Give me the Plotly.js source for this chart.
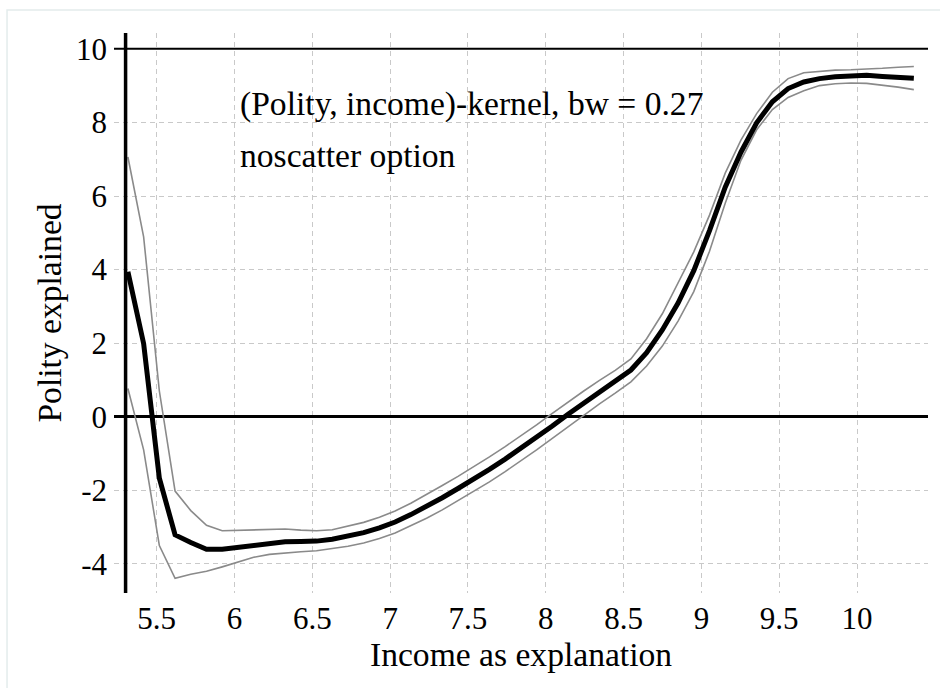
<!DOCTYPE html>
<html>
<head>
<meta charset="utf-8">
<script src="https://cdn.plot.ly/plotly-3.0.1.min.js"></script>
<style>html,body{margin:0;padding:0;background:#fff;}#chart{width:940px;height:688px;}</style>
</head>
<body>
<div id="chart"></div>
<script>
// Income grid (x) — evaluation points of the kernel smoother
const income = [5.315,5.416,5.517,5.618,5.719,5.820,5.921,6.022,6.123,6.224,
  6.325,6.426,6.527,6.628,6.729,6.830,6.931,7.032,7.133,7.234,
  7.335,7.436,7.537,7.638,7.739,7.840,7.941,8.042,8.143,8.244,
  8.345,8.446,8.547,8.648,8.749,8.850,8.951,9.052,9.153,9.254,
  9.355,9.456,9.557,9.658,9.759,9.860,9.961,10.062,10.163,10.264,10.365];

// Kernel estimate of Polity
const polityFit = [3.94,1.99,-1.67,-3.21,-3.42,-3.60,-3.60,-3.55,-3.48,-3.43,
  -3.40,-3.39,-3.38,-3.33,-3.25,-3.15,-3.02,-2.86,-2.66,-2.44,
  -2.20,-1.95,-1.70,-1.43,-1.15,-0.86,-0.56,-0.25,0.07,0.38,
  0.68,0.96,1.27,1.74,2.36,3.09,3.97,5.06,6.24,7.19,
  7.99,8.56,8.92,9.10,9.19,9.24,9.27,9.28,9.25,9.22,9.20];

// Upper confidence band
const polityUpper = [7.06,4.89,0.70,-2.02,-2.55,-2.95,-3.10,-3.09,-3.06,-3.05,
  -3.05,-3.08,-3.10,-3.07,-2.98,-2.87,-2.73,-2.56,-2.35,-2.12,
  -1.87,-1.62,-1.36,-1.09,-0.81,-0.52,-0.22,0.09,0.40,0.70,
  0.99,1.26,1.57,2.12,2.80,3.62,4.48,5.48,6.62,7.52,
  8.24,8.82,9.19,9.35,9.39,9.42,9.43,9.44,9.47,9.50,9.52];

// Lower confidence band
const polityLower = [0.77,-0.90,-3.50,-4.39,-4.28,-4.20,-4.08,-3.95,-3.82,-3.74,
  -3.70,-3.67,-3.64,-3.59,-3.52,-3.43,-3.31,-3.16,-2.96,-2.76,
  -2.53,-2.28,-2.03,-1.77,-1.49,-1.20,-0.90,-0.59,-0.27,0.04,
  0.35,0.64,0.95,1.38,1.92,2.60,3.40,4.50,5.80,6.97,
  7.80,8.35,8.68,8.86,9.00,9.05,9.07,9.06,9.02,8.96,8.89];

const xTickVals = [5.5,6,6.5,7,7.5,8,8.5,9,9.5,10];
const xTickText = ["5.5","6","6.5","7","7.5","8","8.5","9","9.5","10"];
const yTickVals = [-4,-2,0,2,4,6,8,10];
const yTickText = ["-4","-2","0","2","4","6","8","10"];

const noteLines = ["(Polity, income)-kernel, bw = 0.27", "noscatter option"];
const xTitle = "Income as explanation";
const yTitle = "Polity explained";

const serif = "Liberation Serif";
const bigSize = 33.6;

const traces = [
  {x: income, y: polityUpper, type: 'scatter', mode: 'lines',
   line: {color: '#8a8a8a', width: 1.6}, showlegend: false, hoverinfo: 'skip'},
  {x: income, y: polityLower, type: 'scatter', mode: 'lines',
   line: {color: '#8a8a8a', width: 1.6}, showlegend: false, hoverinfo: 'skip'},
  {x: income, y: polityFit, type: 'scatter', mode: 'lines',
   line: {color: '#000000', width: 5}, showlegend: false}
];

const layout = {
  width: 940, height: 688,
  margin: {l: 114, r: 12, t: 33, b: 95, pad: 0},
  paper_bgcolor: '#ffffff', plot_bgcolor: '#ffffff',
  font: {family: serif, color: '#000', size: 31},
  xaxis: {
    range: [5.2256, 10.456], tickvals: xTickVals, ticktext: xTickText,
    showgrid: true, gridcolor: '#c9c9c9', gridwidth: 1, griddash: '5px,4px',
    zeroline: false, showline: false, ticks: '', ticklabelstandoff: 4,
    tickfont: {family: serif, size: 31, color: '#000'},
    fixedrange: true
  },
  yaxis: {
    range: [-4.79, 10.43], tickvals: yTickVals, ticktext: yTickText,
    showgrid: true, gridcolor: '#c9c9c9', gridwidth: 1, griddash: '5px,4px',
    zeroline: true, zerolinecolor: '#000', zerolinewidth: 3,
    showline: false, ticks: '', ticklabelstandoff: 6,
    tickfont: {family: serif, size: 31, color: '#000'},
    title: {text: yTitle, font: {family: serif, size: bigSize, color: '#000'}, standoff: 4},
    fixedrange: true
  },
  shapes: [
    {type: 'line', xref: 'paper', yref: 'y', x0: 0, x1: 1, y0: 10, y1: 10,
     line: {color: '#000', width: 2}},
    {type: 'line', xref: 'x', yref: 'paper', x0: 5.30, x1: 5.30, y0: 0, y1: 1,
     line: {color: '#000', width: 3.5}},
    {type: 'rect', xref: 'paper', yref: 'paper', x0: -0.1314, x1: 1.03, y0: -0.2, y1: 1.0411,
     line: {color: '#e3ecec', width: 1.5}, fillcolor: 'rgba(0,0,0,0)', layer: 'below'}
  ],
  annotations: [
    {text: noteLines[0], xref: 'paper', yref: 'paper', x: 0.1523, y: 0.873,
     xanchor: 'left', yanchor: 'middle', showarrow: false,
     font: {family: serif, size: bigSize, color: '#000'}},
    {text: noteLines[1], xref: 'paper', yref: 'paper', x: 0.1523, y: 0.782,
     xanchor: 'left', yanchor: 'middle', showarrow: false,
     font: {family: serif, size: bigSize, color: '#000'}},
    {text: xTitle, xref: 'paper', yref: 'paper', x: 0.5, y: -0.109,
     xanchor: 'center', yanchor: 'middle', showarrow: false,
     font: {family: serif, size: bigSize, color: '#000'}}
  ]
};

Plotly.newPlot('chart', traces, layout, {displayModeBar: false, staticPlot: true});
</script>
</body>
</html>
